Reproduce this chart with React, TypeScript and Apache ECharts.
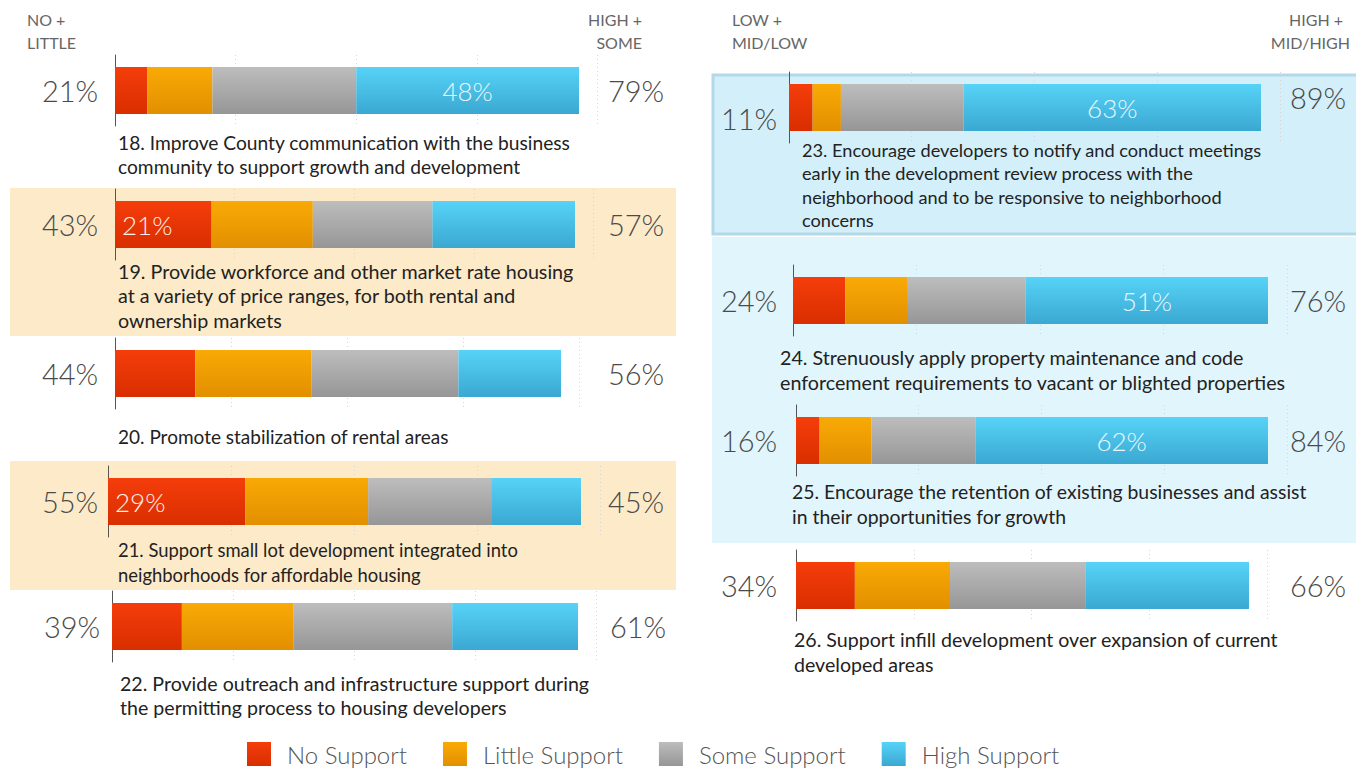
import React, { useEffect, useRef } from "react";
import * as echarts from "echarts";

// ---------- data ----------
const categories = ["No Support", "Little Support", "Some Support", "High Support"];
const questions = [
  "18. Improve County communication with the business\ncommunity to support growth and development",
  "19. Provide workforce and other market rate housing\nat a variety of price ranges, for both rental and\nownership markets",
  "20. Promote stabilization of rental areas",
  "21. Support small lot development integrated into\nneighborhoods for affordable housing",
  "22. Provide outreach and infrastructure support during\nthe permitting process to housing developers",
  "23. Encourage developers to notify and conduct meetings\nearly in the development review process with the\nneighborhood and to be responsive to neighborhood\nconcerns",
  "24. Strenuously apply property maintenance and code\nenforcement requirements to vacant or blighted properties",
  "25. Encourage the retention of existing businesses and assist\nin their opportunities for growth",
  "26. Support infill development over expansion of current\ndeveloped areas",
];
const noSupport = [7, 21, 18, 29, 15, 5, 11, 5, 13];
const littleSupport = [14, 22, 26, 26, 24, 6, 13, 11, 21];
const someSupport = [31, 26, 33, 26, 34, 26, 25, 22, 30];
const highSupport = [48, 31, 23, 19, 27, 63, 51, 62, 36];
// which segment's value is printed inside the bar (-1 = none)
const inBarLabelSeries = [3, 0, -1, 0, -1, 3, 3, 3, -1];
const leftHeader = ["NO +", "LITTLE"];
const leftHeaderHigh = ["HIGH +", "SOME"];
const rightHeader = ["LOW +", "MID/LOW"];
const rightHeaderHigh = ["HIGH +", "MID/HIGH"];

// ---------- layout (pixels) ----------
const rowBarLeft = [115, 115, 115, 108, 112, 789, 793, 796, 796];
const rowBarRight = [579, 575, 561, 581, 578, 1261, 1268, 1268, 1249];
const rowBarTop = [67, 201, 350, 478, 603, 84, 277, 417, 562];
const rowTextX = [118, 118, 118, 118, 120, 802, 780, 792, 794];
const rowTextTop = [130, 259, 424, 538, 671, 138, 345, 479, 627];
const rowTextLH = [24.5, 24.5, 24.5, 24.5, 24.5, 23.4, 25, 25, 25];
const rowTextSize = [19.2, 19.7, 19, 18.4, 19.6, 18.2, 19.7, 19.4, 19.6];
const rowLowX = [70, 70, 70, 70, 72, 749, 749, 749, 749];
const rowHighX = [636, 636, 636, 636, 638, 1318, 1318, 1318, 1318];
const rowLowDy = [0, 0, 0, 0, 0, 11, 0, 0, 0];
const rowHighDy = [0, 0, 0, 0, 0, -10, 0, 0, 0];

const BAR_H = 47;
const GRID_PAD = 12;
const AXIS_MAX = 104;

const grad = (a: string, b: string) =>
  new echarts.graphic.LinearGradient(0, 0, 0, 1, [
    { offset: 0, color: a },
    { offset: 1, color: b },
  ]);
const colors = [
  grad("#f53d0b", "#d92e00"),
  grad("#f9aa05", "#e28f00"),
  grad("#bdbdbd", "#969696"),
  grad("#57d3f7", "#3aa8d2"),
];

export default function App() {
  const ref = useRef<HTMLDivElement>(null);
  useEffect(() => {
    if (!ref.current) return;
    const chart = echarts.init(ref.current, undefined, { renderer: "svg" });
    const seriesData = [noSupport, littleSupport, someSupport, highSupport];

    const grids: any[] = [];
    const xAxes: any[] = [];
    const yAxes: any[] = [];
    const series: any[] = [];
    const graphics: any[] = [];

    // backgrounds
    graphics.push({ type: "rect", z: -10, shape: { x: 10, y: 188, width: 666, height: 148 }, style: { fill: "#fdeac9" } });
    graphics.push({ type: "rect", z: -10, shape: { x: 10, y: 461, width: 666, height: 129 }, style: { fill: "#fdeac9" } });
    graphics.push({ type: "rect", z: -10, shape: { x: 713, y: 75, width: 650, height: 159 }, style: { fill: "#d3effa", stroke: "#b3d9e8", lineWidth: 3 } });
    graphics.push({ type: "rect", z: -10, shape: { x: 712, y: 237, width: 650, height: 306 }, style: { fill: "#e1f5fc" } });

    const hdrFont = '16px "Lato", sans-serif';
    const hdr = (x: number, y: number, t: string, align: string) =>
      graphics.push({ type: "text", x, y, style: { text: t, font: hdrFont, fill: "#666", textAlign: align, textVerticalAlign: "middle" } });
    hdr(27, 19, leftHeader[0], "left");
    hdr(27, 42, leftHeader[1], "left");
    hdr(642, 19, leftHeaderHigh[0], "right");
    hdr(642, 42, leftHeaderHigh[1], "right");
    hdr(732, 19, rightHeader[0], "left");
    hdr(732, 42, rightHeader[1], "left");
    hdr(1343, 19, rightHeaderHigh[0], "right");
    hdr(1350, 42, rightHeaderHigh[1], "right");

    questions.forEach((q, i) => {
      const w = ((rowBarRight[i] - rowBarLeft[i]) * AXIS_MAX) / 100;
      grids.push({
        left: rowBarLeft[i],
        top: rowBarTop[i] - GRID_PAD,
        width: w,
        height: BAR_H + 2 * GRID_PAD,
        containLabel: false,
      });
      xAxes.push({
        type: "value",
        gridIndex: i,
        min: 0,
        max: AXIS_MAX,
        interval: 26,
        axisLabel: { show: false },
        axisTick: { show: false },
        axisLine: { show: false },
        splitLine: { show: true, lineStyle: { color: "#d6d6d6", type: [1, 3], width: 1 } },
      });
      yAxes.push({
        type: "category",
        gridIndex: i,
        data: [""],
        axisLabel: { show: false },
        axisTick: { show: false },
        axisLine: { show: true, lineStyle: { color: "#555", width: 1 } },
      });
      categories.forEach((c, s) => {
        const v = seriesData[s][i];
        const showLbl = inBarLabelSeries[i] === s;
        series.push({
          type: "bar",
          name: c,
          xAxisIndex: i,
          yAxisIndex: i,
          stack: "row" + i,
          barWidth: BAR_H,
          itemStyle: { color: colors[s] },
          label: showLbl
            ? {
                show: true,
                position: s === 0 ? "insideLeft" : "inside",
                distance: 7,
                formatter: "{c}%",
                fontSize: 26,
                fontFamily: "Lato",
                fontWeight: 300,
                color: s === 0 ? "#fff0ea" : "#e6f7fd",
              }
            : { show: false },
          data: [v],
        });
      });
      const low = noSupport[i] + littleSupport[i];
      const high = someSupport[i] + highSupport[i];
      const cy = rowBarTop[i] + BAR_H / 2;
      const pctStyle = (t: string) => ({
        text: t,
        font: '300 29px "Lato", sans-serif',
        fill: "#4a4a4a",
        textAlign: "center",
        textVerticalAlign: "middle",
      });
      graphics.push({ type: "text", x: rowLowX[i], y: cy + rowLowDy[i], style: pctStyle(low + "%") });
      graphics.push({ type: "text", x: rowHighX[i], y: cy + rowHighDy[i], style: pctStyle(high + "%") });
      graphics.push({
        type: "text",
        x: rowTextX[i],
        y: rowTextTop[i],
        style: {
          text: q,
          font: rowTextSize[i] + 'px "Lato", sans-serif',
          fill: "#222",
          lineHeight: rowTextLH[i],
          textVerticalAlign: "top",
        },
      });
    });

    chart.setOption({
      animation: false,
      backgroundColor: "#ffffff",
      grid: grids,
      xAxis: xAxes,
      yAxis: yAxes,
      series,
      graphic: graphics,
      legend: {
        data: categories,
        left: 247,
        top: 742,
        padding: 0,
        icon: "rect",
        itemWidth: 24,
        itemHeight: 24,
        itemGap: 36,
        selectedMode: false,
        textStyle: {
          fontSize: 24,
          lineHeight: 24,
          fontFamily: "Lato",
          fontWeight: 300,
          color: "#555",
          padding: [0, 0, 0, 11],
        },
      },
    });
    return () => chart.dispose();
  }, []);
  return (
    <div
      ref={ref}
      style={{ position: "fixed", left: 0, top: 0, width: 1356, height: 769, background: "#fff" }}
    />
  );
}
